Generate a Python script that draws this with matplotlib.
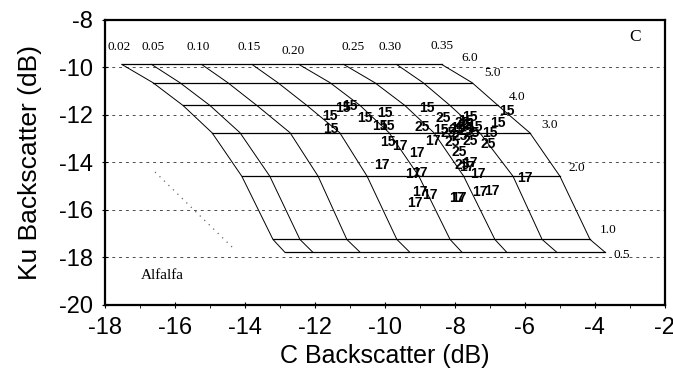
import matplotlib
matplotlib.use('Agg')
import matplotlib.pyplot as plt
import numpy as np

plt.rcParams['font.family'] = ['Liberation Sans', 'DejaVu Sans']
plt.rcParams['axes.unicode_minus'] = False

# --- model grid (soil moisture x vegetation water content) ---
moisture = ['0.02', '0.05', '0.10', '0.15', '0.20', '0.25', '0.30', '0.35']
vwc = ['6.0', '5.0', '4.0', '3.0', '2.0', '1.0', '0.5']
ku_nodes = [-9.87, -10.64, -11.60, -12.75, -14.58, -17.24, -17.78]
c_nodes = [
    [-17.52, -16.63, -15.77, -14.94, -14.09, -13.20, -12.86],
    [-16.67, -15.86, -15.00, -14.14, -13.29, -12.43, -12.06],
    [-15.24, -14.49, -13.66, -12.71, -11.91, -11.09, -10.71],
    [-13.80, -13.06, -12.23, -11.29, -10.51, -9.66, -9.29],
    [-12.46, -11.57, -10.71, -9.88, -9.03, -8.14, -7.80],
    [-11.18, -10.29, -9.43, -8.60, -7.75, -6.86, -6.52],
    [-9.67, -8.91, -8.14, -7.29, -6.34, -5.51, -5.09],
    [-8.38, -7.51, -6.77, -5.86, -5.00, -4.14, -3.71],
]
# label positions for the grid lines
moist_lab_x = [-17.60, -16.63, -15.34, -13.89, -12.63, -10.90, -9.86, -8.37]
moist_lab_y = [-9.15, -9.15, -9.15, -9.15, -9.30, -9.15, -9.15, -9.10]
vwc_lab_x = [-7.57, -6.94, -6.23, -5.29, -4.51, -3.63, -3.23]
vwc_lab_y = [-9.60, -10.23, -11.24, -12.42, -14.23, -16.84, -17.90]

# --- observations (labels are day of year group) ---
c15 = [-11.57, -11.20, -11.00, -11.54, -10.57, -10.00, -10.14, -9.94, -9.91,
       -8.80, -8.40, -7.57, -7.69, -6.77, -7.00, -6.51, -7.91, -7.43]
ku15 = [-12.04, -11.71, -11.62, -12.59, -12.13, -11.92, -12.46, -12.46, -13.14,
        -11.71, -12.63, -12.08, -12.25, -12.34, -12.76, -11.83, -12.55, -12.51]
c17 = [-9.57, -9.09, -10.09, -9.20, -9.00, -9.00, -8.71, -9.14, -7.94, -7.89,
       -7.29, -6.94, -7.34, -6.00, -8.63, -7.57, -7.66]
ku17 = [-13.31, -13.60, -14.11, -14.48, -14.44, -15.24, -15.37, -15.71, -15.49,
        -15.49, -15.24, -15.20, -14.48, -14.65, -13.09, -14.02, -14.19]
c25 = [-8.34, -8.94, -7.80, -8.20, -8.09, -7.57, -7.97, -7.69, -7.86, -7.51,
       -7.89, -7.80, -7.06, -7.71]
ku25 = [-12.13, -12.51, -12.34, -12.76, -13.14, -13.09, -12.63, -12.67, -12.88,
        -12.76, -13.56, -14.11, -13.22, -12.42]

# faint dotted trace at the left
trace_c = [-16.57, -14.34]
trace_ku = [-14.40, -17.60]

fig = plt.figure(figsize=(6.73, 3.77), dpi=100)
ax = fig.add_axes([0.156, 0.191, 0.832, 0.756])

for yv in [-10, -12, -14, -16, -18]:
    ax.axhline(yv, color='0.3', lw=0.7, ls=(0, (3, 4)), zorder=1)

ax.plot(trace_c, trace_ku, color='0.4', lw=0.9, ls=(0, (1, 4)), zorder=1)

C = np.array(c_nodes)
K = np.array(ku_nodes)
for i in range(len(moisture)):
    ax.plot(C[i], K, color='black', lw=0.7, zorder=2)
for j in range(len(vwc)):
    ax.plot(C[:, j], np.full(len(moisture), K[j]), color='black', lw=0.9, zorder=2)

serif = ['Liberation Serif', 'DejaVu Serif']
for lab, x, y in zip(moisture, moist_lab_x, moist_lab_y):
    ax.text(x, y, lab, family=serif, fontsize=9.5, ha='center', va='center')
for lab, x, y in zip(vwc, vwc_lab_x, vwc_lab_y):
    ax.text(x, y, lab, family=serif, fontsize=9.5, ha='center', va='center')

for xs, ys, lab in [(c15, ku15, '15'), (c17, ku17, '17'), (c25, ku25, '25')]:
    for x, y in zip(xs, ys):
        ax.text(x, y, lab, fontsize=10, fontweight='bold', ha='center', va='center', zorder=3)

ax.text(-2.86, -8.7, 'C', family=serif, fontsize=12.5, ha='center', va='center')
ax.text(-16.37, -18.74, 'Alfalfa', family=serif, fontsize=11, ha='center', va='center')

ax.set_xlim(-18, -2)
ax.set_ylim(-20, -8)
ax.set_xticks(np.arange(-18, -1, 2))
ax.set_yticks(np.arange(-20, -7, 2))
ax.set_xticks(np.arange(-17, -2, 2), minor=True)
ax.tick_params(axis='both', which='major', direction='inout', length=5, width=0.8, labelsize=17, pad=6)
ax.tick_params(axis='x', which='minor', direction='out', length=2, width=0.6)
for s in ax.spines.values():
    s.set_linewidth(1.6)

ax.set_xlabel('C Backscatter (dB)', fontsize=18, labelpad=4)
ax.set_ylabel('Ku Backscatter (dB)', fontsize=19, labelpad=12)

fig.savefig('out.png', dpi=100)
